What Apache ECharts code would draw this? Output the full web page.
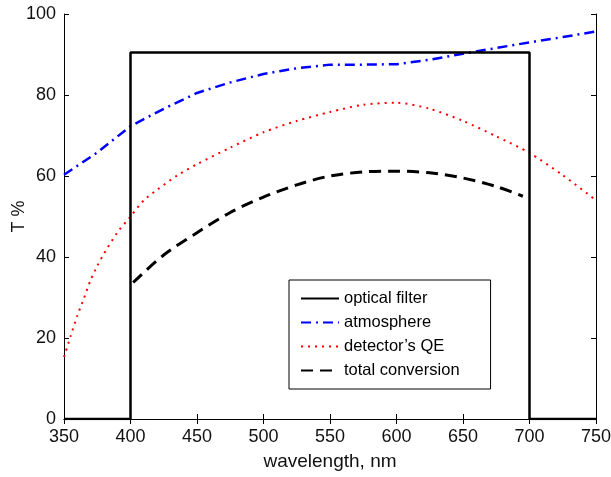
<!DOCTYPE html>
<html>
<head>
<meta charset="utf-8">
<script src="https://cdn.jsdelivr.net/npm/echarts@6/dist/echarts.min.js"></script>
<style>html,body{margin:0;padding:0;background:#fff}#c{width:611px;height:477px}</style>
</head>
<body>
<div id="c"></div>
<script>
const xTicks = [350, 400, 450, 500, 550, 600, 650, 700, 750];
const yTicks = [0, 20, 40, 60, 80, 100];

const filterX = [350, 400, 400, 700, 700, 750];
const filterY = [0, 0, 90.5, 90.5, 0, 0];

const atmX = [350, 375, 400, 425, 450, 475, 500, 525, 550, 575, 600, 625, 650, 675, 700, 725, 750];
const atmY = [60.3, 65.8, 72.3, 76.6, 80.5, 83.1, 85.2, 86.6, 87.5, 87.5, 87.6, 88.7, 90.2, 91.6, 93.0, 94.3, 95.7];

const qeX = [350, 355, 360, 365, 370, 375, 380, 390, 400, 410, 420, 435, 450, 475, 500, 525, 550, 575, 600, 625, 650, 675, 700, 725, 750];
const qeY = [15.3, 20.5, 25.5, 29.8, 34.3, 37.8, 40.8, 46.0, 50.0, 54.0, 56.6, 60.1, 62.9, 67.0, 70.8, 73.6, 75.8, 77.6, 78.1, 76.6, 73.6, 69.8, 65.7, 60.2, 54.0];

const totX = [402, 425, 450, 475, 500, 525, 550, 575, 600, 625, 650, 675, 695];
const totY = [33.7, 40.5, 46.0, 51.0, 54.8, 57.8, 60.0, 61.0, 61.2, 60.8, 59.5, 57.4, 55.0];

const names = ['optical filter', 'atmosphere', 'detector\u2019s QE', 'total conversion'];

function pairs(xs, ys) { return xs.map((x, i) => [x, ys[i]]); }

const font = 'Liberation Sans, Arial, sans-serif';
const txt = '#111';

const chart = echarts.init(document.getElementById('c'), null, { renderer: 'canvas' });
chart.setOption({
  animation: false,
  backgroundColor: '#fff',
  grid: { left: 64, top: 14, width: 532, height: 405, containLabel: false, outerBoundsMode: 'none' },
  xAxis: [
    {
      type: 'value', position: 'bottom', min: xTicks[0], max: xTicks[xTicks.length - 1], interval: 50,
      axisLine: { lineStyle: { color: '#000', width: 1 } },
      axisTick: { inside: true, length: 5, lineStyle: { color: '#000' } },
      splitLine: { show: false },
      axisLabel: { color: txt, fontFamily: font, fontSize: 18, margin: 9 },
      name: 'wavelength, nm', nameLocation: 'middle', nameGap: 33, nameMoveOverlap: false,
      nameTextStyle: { color: txt, fontFamily: font, fontSize: 19 }
    },
    {
      type: 'value', position: 'top', min: xTicks[0], max: xTicks[xTicks.length - 1], interval: 50,
      axisLine: { lineStyle: { color: '#000', width: 1 } },
      axisTick: { inside: true, length: 5, lineStyle: { color: '#000' } },
      splitLine: { show: false },
      axisLabel: { show: false }
    }
  ],
  yAxis: [
    {
      type: 'value', min: yTicks[0], max: yTicks[yTicks.length - 1], interval: 20, position: 'left',
      axisLine: { show: true, lineStyle: { color: '#000', width: 1 } },
      axisTick: { show: true, inside: true, length: 5, lineStyle: { color: '#000' } },
      splitLine: { show: false },
      axisLabel: { color: txt, fontFamily: font, fontSize: 18, margin: 8 },
      name: 'T %', nameLocation: 'middle', nameGap: 36, nameRotate: 90, nameMoveOverlap: false,
      nameTextStyle: { color: txt, fontFamily: font, fontSize: 18 }
    },
    {
      type: 'value', min: yTicks[0], max: yTicks[yTicks.length - 1], interval: 20, position: 'right',
      axisLine: { show: true, lineStyle: { color: '#000', width: 1 } },
      axisTick: { show: true, inside: true, length: 5, lineStyle: { color: '#000' } },
      splitLine: { show: false },
      axisLabel: { show: false }
    }
  ],
  legend: {
    orient: 'vertical', left: 289, top: 280,
    data: names,
    backgroundColor: '#fff', borderColor: '#000', borderWidth: 1,
    padding: [10, 31, 10, 11],
    itemWidth: 38, itemHeight: 14, itemGap: 7, itemTextGap: 11,
    itemStyle: { opacity: 0, color: 'rgba(0,0,0,0)', borderWidth: 0 },
    textStyle: { color: '#000', fontFamily: font, fontSize: 16.5 },
    selectedMode: false
  },
  series: [
    {
      name: names[0], type: 'line', data: pairs(filterX, filterY),
      showSymbol: false, symbol: 'none', z: 3,
      lineStyle: { color: '#000', width: 2.5, type: 'solid' },
      itemStyle: { color: '#000' }
    },
    {
      name: names[1], type: 'line', data: pairs(atmX, atmY),
      showSymbol: false, symbol: 'none', z: 2,
      lineStyle: { color: '#0000ff', width: 2.5, type: [10, 5, 2, 5] },
      itemStyle: { color: '#0000ff' }
    },
    {
      name: names[2], type: 'line', data: pairs(qeX, qeY), smooth: 0.25,
      showSymbol: false, symbol: 'none', z: 2,
      lineStyle: { color: '#ff0000', width: 2, type: [2, 5] },
      itemStyle: { color: '#ff0000' }
    },
    {
      name: names[3], type: 'line', data: pairs(totX, totY), smooth: 0.3,
      showSymbol: false, symbol: 'none', z: 2,
      lineStyle: { color: '#000', width: 3, type: [12, 7] },
      itemStyle: { color: '#000' }
    }
  ]
});
</script>
</body>
</html>
